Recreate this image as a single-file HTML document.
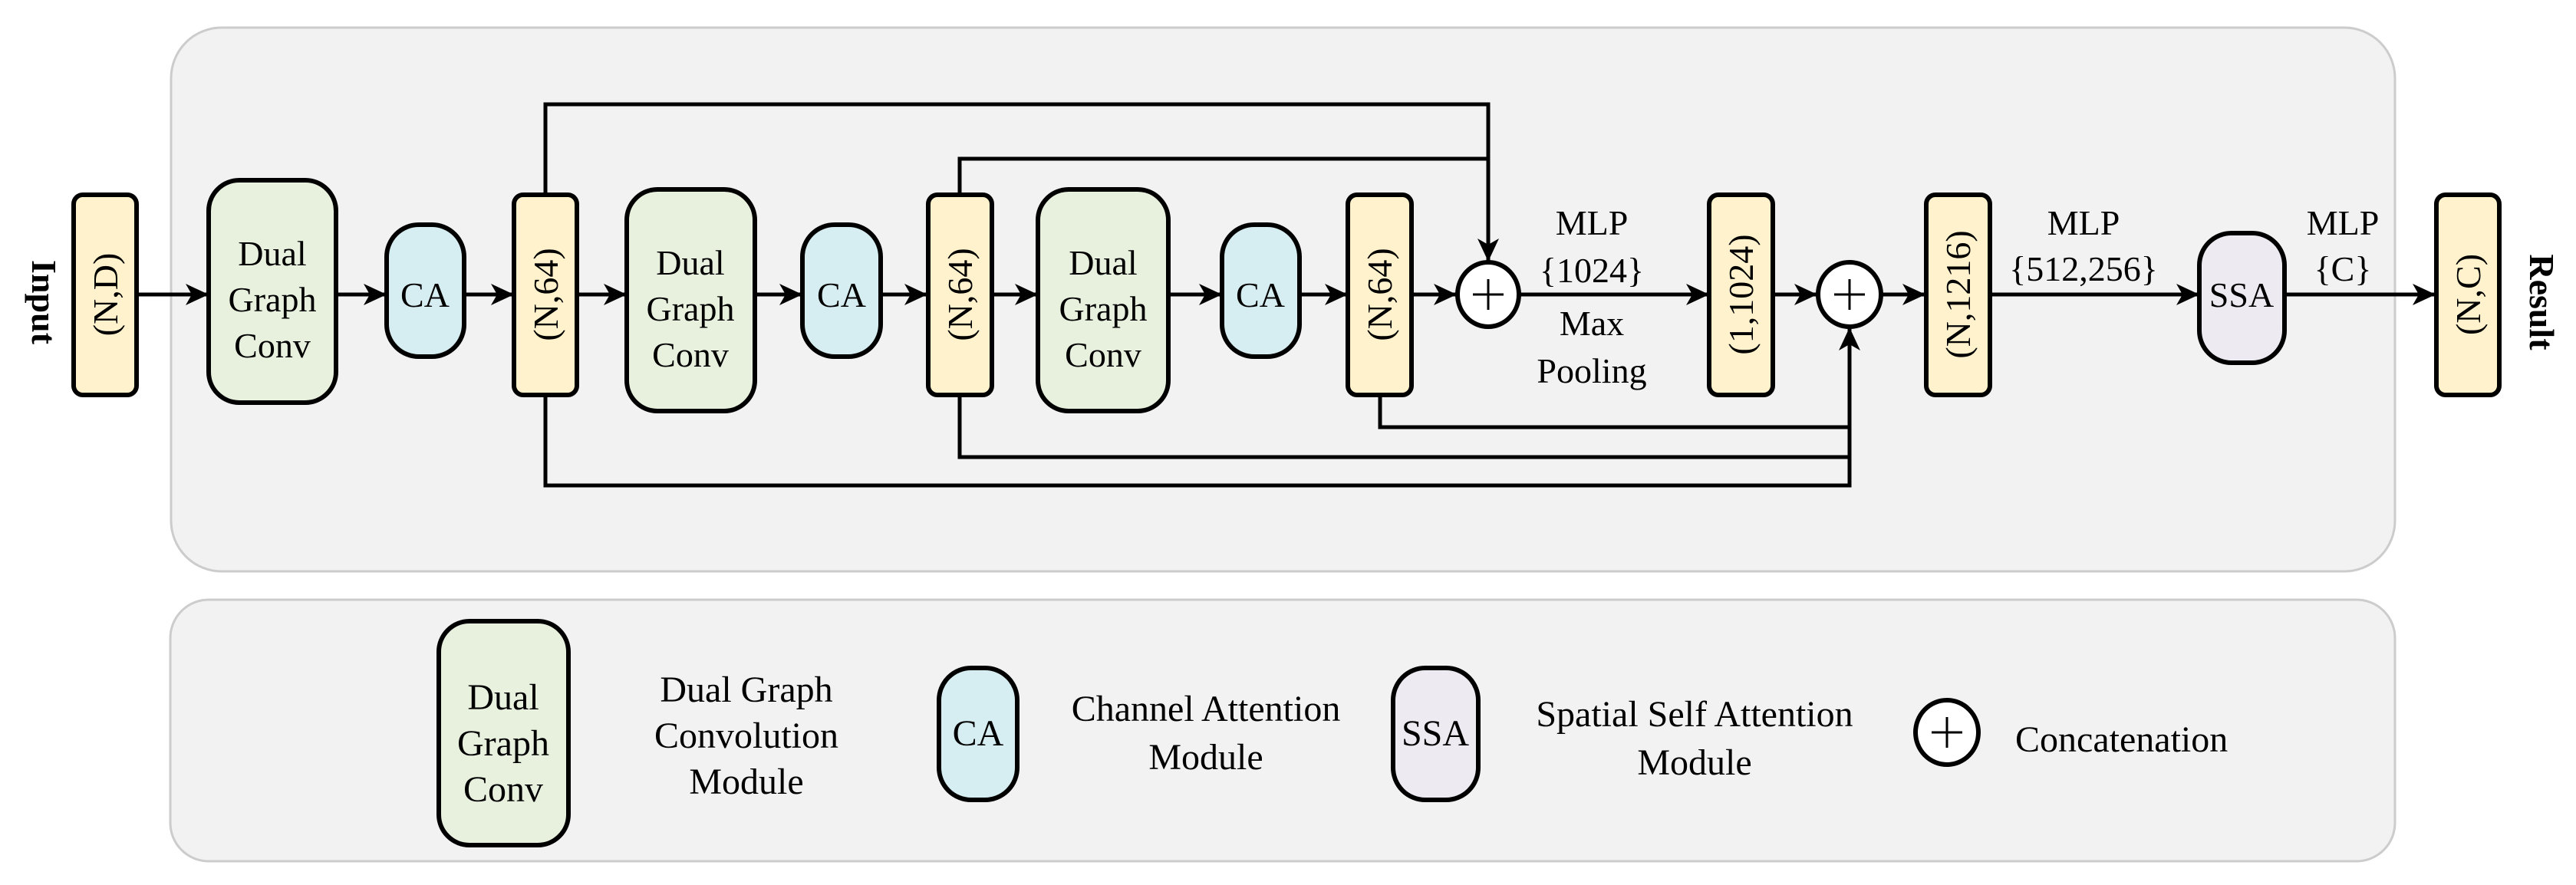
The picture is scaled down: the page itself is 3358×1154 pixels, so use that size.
<!DOCTYPE html>
<html><head><meta charset="utf-8"><style>
html,body{margin:0;padding:0;background:#fff;}
svg{display:block;}
text{font-family:"Liberation Serif",serif;fill:#000;}
</style></head><body>
<svg width="3358" height="1154" viewBox="0 0 3358 1154" xmlns="http://www.w3.org/2000/svg">
<defs>
<marker id="ah" viewBox="0 0 30 28" refX="29" refY="14" markerWidth="30" markerHeight="28" markerUnits="userSpaceOnUse" orient="auto">
<path d="M0,0 L30,14 L0,28 L8,14 Z" fill="#000"/>
</marker>
</defs>
<!-- panels -->
<rect x="223" y="36" width="2899" height="709" rx="66" ry="66" fill="#f2f2f2" stroke="#cccccc" stroke-width="3"/>
<rect x="222" y="782" width="2900" height="341" rx="50" ry="50" fill="#f2f2f2" stroke="#cccccc" stroke-width="3"/>

<g stroke="#000" stroke-width="5" fill="none">
<!-- skip lines -->
<polyline points="711,253 711,136 1940,136 1940,340" marker-end="url(#ah)"/>
<polyline points="1251,253 1251,207 1940,207"/>
<polyline points="711,515 711,633 2411,633 2411,428" marker-end="url(#ah)"/>
<polyline points="1251,515 1251,596 2411,596"/>
<polyline points="1799,515 1799,557 2411,557"/>
<!-- main arrows -->
<line x1="178" y1="384" x2="271" y2="384" marker-end="url(#ah)"/>
<line x1="438" y1="384" x2="503" y2="384" marker-end="url(#ah)"/>
<line x1="605" y1="384" x2="669" y2="384" marker-end="url(#ah)"/>
<line x1="752" y1="384" x2="816" y2="384" marker-end="url(#ah)"/>
<line x1="984" y1="384" x2="1045" y2="384" marker-end="url(#ah)"/>
<line x1="1148" y1="384" x2="1208" y2="384" marker-end="url(#ah)"/>
<line x1="1293" y1="384" x2="1352" y2="384" marker-end="url(#ah)"/>
<line x1="1523" y1="384" x2="1592" y2="384" marker-end="url(#ah)"/>
<line x1="1694" y1="384" x2="1756" y2="384" marker-end="url(#ah)"/>
<line x1="1840" y1="384" x2="1898" y2="384" marker-end="url(#ah)"/>
<line x1="1981" y1="384" x2="2227" y2="384" marker-end="url(#ah)"/>
<line x1="2311" y1="384" x2="2368" y2="384" marker-end="url(#ah)"/>
<line x1="2453" y1="384" x2="2509" y2="384" marker-end="url(#ah)"/>
<line x1="2594" y1="384" x2="2866" y2="384" marker-end="url(#ah)"/>
<line x1="2978" y1="384" x2="3174" y2="384" marker-end="url(#ah)"/>
</g>

<g stroke="#000" stroke-width="6">
<!-- yellow boxes -->
<rect x="96" y="254" width="82" height="261" rx="12" fill="#fff2cc"/>
<rect x="670" y="254" width="82" height="261" rx="12" fill="#fff2cc"/>
<rect x="1210" y="254" width="83" height="261" rx="12" fill="#fff2cc"/>
<rect x="1757" y="254" width="83" height="261" rx="12" fill="#fff2cc"/>
<rect x="2228" y="254" width="83" height="261" rx="12" fill="#fff2cc"/>
<rect x="2511" y="254" width="83" height="261" rx="12" fill="#fff2cc"/>
<rect x="3176" y="254" width="82" height="261" rx="12" fill="#fff2cc"/>
<!-- DGC -->
<rect x="272" y="235" width="166" height="290" rx="40" fill="#e8f0de"/>
<rect x="817" y="247" width="167" height="289" rx="40" fill="#e8f0de"/>
<rect x="1353" y="247" width="170" height="289" rx="40" fill="#e8f0de"/>
<!-- CA -->
<rect x="504" y="293" width="101" height="172" rx="42" fill="#d6edf2"/>
<rect x="1046" y="293" width="102" height="172" rx="42" fill="#d6edf2"/>
<rect x="1593" y="293" width="101" height="172" rx="42" fill="#d6edf2"/>
<!-- SSA -->
<rect x="2867" y="304" width="111" height="169" rx="42" fill="#eeeaf2"/>
<!-- circles -->
<ellipse cx="1940" cy="384" rx="40" ry="42" fill="#fff"/>
<ellipse cx="2411" cy="384" rx="41" ry="42" fill="#fff"/>
<!-- legend shapes -->
<rect x="572" y="810" width="169" height="292" rx="40" fill="#e8f0de"/>
<rect x="1224" y="871" width="102" height="172" rx="42" fill="#d6edf2"/>
<rect x="1816" y="871" width="111" height="172" rx="42" fill="#eeeaf2"/>
<ellipse cx="2538" cy="955" rx="41" ry="42" fill="#fff"/>
</g>
<g stroke="#000" stroke-width="3">
<line x1="1920" y1="384" x2="1960" y2="384"/><line x1="1940" y1="364" x2="1940" y2="404"/>
<line x1="2391" y1="384" x2="2431" y2="384"/><line x1="2411" y1="364" x2="2411" y2="404"/>
<line x1="2518" y1="955" x2="2558" y2="955"/><line x1="2538" y1="935" x2="2538" y2="975"/>
</g>

<!-- text -->
<g font-size="46" text-anchor="middle">
<text x="355" y="346">Dual</text><text x="355" y="406">Graph</text><text x="355" y="466">Conv</text>
<text x="900" y="358">Dual</text><text x="900" y="418">Graph</text><text x="900" y="478">Conv</text>
<text x="1438" y="358">Dual</text><text x="1438" y="418">Graph</text><text x="1438" y="478">Conv</text>
<text x="554" y="400">CA</text><text x="1097" y="400">CA</text><text x="1643" y="400">CA</text>
<text x="2922" y="400">SSA</text>
<text x="2075" y="306">MLP</text><text x="2075" y="368">{1024}</text>
<text x="2075" y="437">Max</text><text x="2075" y="499">Pooling</text>
<text x="2716" y="306">MLP</text><text x="2716" y="366">{512,256}</text>
<text x="3054" y="306">MLP</text><text x="3054" y="366">{C}</text>
<text transform="translate(153,384) rotate(-90)">(N,D)</text>
<text transform="translate(727,384) rotate(-90)">(N,64)</text>
<text transform="translate(1267,384) rotate(-90)">(N,64)</text>
<text transform="translate(1814,384) rotate(-90)">(N,64)</text>
<text transform="translate(2285,384) rotate(-90)">(1,1024)</text>
<text transform="translate(2568,384) rotate(-90)">(N,1216)</text>
<text transform="translate(3233,384) rotate(-90)">(N,C)</text>
<text transform="translate(42,394) rotate(90)" font-weight="bold">Input</text>
<text transform="translate(3298,394) rotate(90)" font-weight="bold">Result</text>
</g>
<g font-size="48" text-anchor="middle">
<text x="656" y="925">Dual</text><text x="656" y="985">Graph</text><text x="656" y="1045">Conv</text>
<text x="1275" y="972">CA</text>
<text x="1871" y="972">SSA</text>
<text x="973" y="915">Dual Graph</text><text x="973" y="975">Convolution</text><text x="973" y="1035">Module</text>
<text x="1572" y="940">Channel Attention</text><text x="1572" y="1003">Module</text>
<text x="2209" y="947">Spatial Self Attention</text><text x="2209" y="1010">Module</text>
<text x="2627" y="980" text-anchor="start">Concatenation</text>
</g>
</svg>
</body></html>
